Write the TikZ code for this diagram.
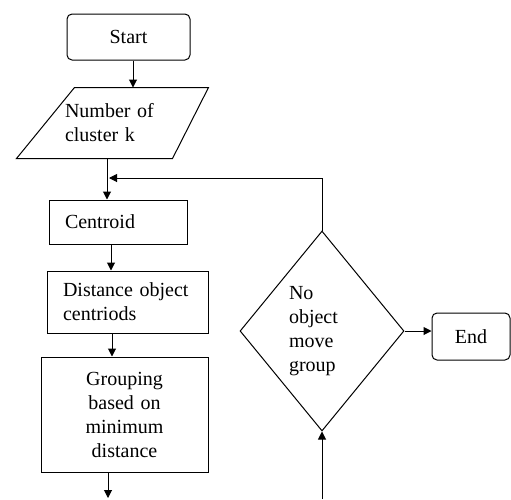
\documentclass[tikz,border=0pt]{standalone}
\usepackage{fontspec}
\setmainfont{Liberation Serif}
\usetikzlibrary{shapes.geometric, arrows.meta, positioning}

\begin{document}
\begin{tikzpicture}[x=1pt, y=-1pt, on grid, line width=1pt,
  >={Triangle[length=8pt, width=8pt]},
  every node/.style={font=\fontsize{20}{24}\selectfont, inner sep=0pt},
  term/.style={draw, rounded corners=5pt, minimum height=46pt},
  io/.style={minimum width=133pt, minimum height=70pt, text width=95pt, align=left},
  proc/.style={draw, inner xsep=16pt, align=left},
  decision/.style={draw, diamond, minimum width=164pt, minimum height=200pt,
    text width=66pt, align=left}]
  \useasboundingbox (0,0) rectangle (511,499);

  \node[term, minimum width=123pt] (start) at (128.5,37) {Start};
  \node[io] (num) [below=86pt of start, xshift=-16pt] {Number of\\cluster k};
  \node[proc, text width=106pt, minimum height=44pt] (cent) [below=99pt of num, xshift=5.5pt] {Centroid};
  \node[proc, text width=129pt, minimum height=62pt] (dist) [below=80pt of cent, xshift=9.5pt] {Distance object\\centriods};
  \node[draw, text width=167pt, minimum height=115pt, align=center] (group) [below=112.5pt of dist, xshift=-3pt]
    {Grouping\\based on\\minimum\\distance};
  \node[decision] (dec) [below right=29pt and 194.5pt of dist] {No\\object\\move\\group};
  \node[term, minimum width=78pt, minimum height=47pt] (end) [right=149pt of dec, yshift=-5.5pt] {End};

  % slanted input box round the num node
  \draw ([xshift=29pt]num.north west) -- ([xshift=29pt]num.north east)
    -- ([xshift=-7pt]num.south east) -- ([xshift=-29pt]num.south west) -- cycle;

  \coordinate (join) at (109,178);
  \coordinate (out) at (108,498);
  \coordinate (in) at (322,499);

  \draw[->] ([xshift=4.5pt]start.south) -- ([xshift=4.5pt]start.south |- num.north);
  \draw[->] ([xshift=-5.5pt]num.south) -- ([xshift=-5.5pt]num.south |- cent.north);
  \draw[->] ([xshift=-7pt]cent.south) -- ([xshift=-7pt]cent.south |- dist.north);
  \draw[->] ([xshift=-15.5pt]dist.south) -- ([xshift=-15.5pt]dist.south |- group.north);
  \draw[->] ([xshift=-16.5pt]group.south) -- (out);
  \draw[->] (in) -- (dec.south);
  \draw[->] (dec.east) -- (dec.east -| end.west);
  \draw[->] (dec.north) |- (join);
\end{tikzpicture}
\end{document}
